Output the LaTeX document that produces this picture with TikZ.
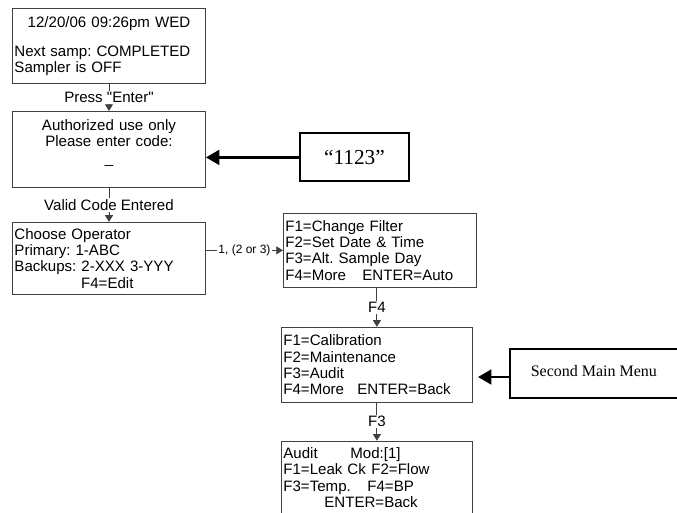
\documentclass[tikz,border=0pt]{standalone}
\usepackage{fontspec}
\newfontfamily\screenfont{Liberation Sans}
\newfontfamily\notefont{Liberation Serif}
\usetikzlibrary{positioning,arrows.meta}
\frenchspacing

\begin{document}
\begin{tikzpicture}[x=0.75pt, y=-0.75pt,
	every node/.style={font=\screenfont\fontsize{11.3}{12.2}\selectfont},
	screen/.style={rectangle, draw=black!75, line width=0.7pt, minimum width=144.75pt, text width=141.75pt, inner xsep=1.5pt, align=left},
	keylabel/.style={fill=white, inner sep=1pt},
	flow/.style={draw=black!75, line width=0.7pt, -{Triangle[length=5pt,width=6pt]}},
	note/.style={rectangle, draw=black, line width=1.5pt, font=\notefont\fontsize{12}{14}\selectfont},
	pointer/.style={line width=2pt, -{Triangle[length=10pt,width=11pt]}}]
	\useasboundingbox (0,0) rectangle (677,512);
	\node (status) [screen, minimum height=56.25pt, anchor=north west] at (12,8) {\hfill 12/20/06 09:26pm WED\hfill\null\\[9.75pt]Next samp: COMPLETED\\Sampler is OFF};
	\node (login) [screen, align=center, minimum height=57pt, below=20.25pt of status] {Authorized use only\\Please enter code:\\\_\\\mbox{}};
	\node (operator) [screen, minimum height=54pt, below=25.5pt of login] {Choose Operator\\Primary: 1-ABC\\Backups: 2-XXX 3-YYY\\\hspace*{50pt}F4=Edit};
	\node (mainmenu) [screen, minimum height=55.5pt, right=57.75pt of operator, yshift=6pt] {F1=Change Filter\\F2=Set Date \& Time\\F3=Alt. Sample Day\\\makebox[57.75pt][l]{F4=More}ENTER=Auto};
	\node (secondmenu) [screen, minimum width=143.25pt, text width=140.25pt, minimum height=56.25pt, below=29.25pt of mainmenu, xshift=-2.25pt] {F1=Calibration\\F2=Maintenance\\F3=Audit\\\makebox[55.5pt][l]{F4=More}ENTER=Back};
	\node (audit) [screen, minimum width=143.25pt, text width=140.25pt, minimum height=54.75pt, below=28.5pt of secondmenu] {\makebox[50.25pt][l]{Audit}Mod:[1]\\\makebox[66pt][l]{F1=Leak Ck}F2=Flow\\\makebox[63pt][l]{F3=Temp.}F4=BP\\\hspace*{30.75pt}ENTER=Back};
	\node (code) [note, font=\notefont\fontsize{16}{18}\selectfont, minimum width=81.75pt, minimum height=36pt, right=69.75pt of login, yshift=-6pt] {“1123”};
	\node (menulabel) [note, minimum width=126pt, minimum height=36.75pt, right=27pt of secondmenu, yshift=-6.75pt] {\raisebox{4pt}{Second Main Menu}};
	\coordinate (menutip) at (478,377);
	\draw [flow] (status) -- node [keylabel] {Press "Enter"} (login);
	\draw [flow] (login) -- node [keylabel] {Valid Code Entered} (operator);
	\draw [flow] (operator.east |- mainmenu) -- node [keylabel, font=\screenfont\fontsize{9}{10}\selectfont] {1, (2 or 3)} (mainmenu);
	\draw [flow] (secondmenu.north |- mainmenu.south) -- node [keylabel] {F4} (secondmenu);
	\draw [flow] (secondmenu) -- node [keylabel] {F3} (audit);
	\draw [pointer] (code.west) -- (code.west -| login.east);
	\draw [pointer] (menulabel.west |- menutip) -- (menutip);
\end{tikzpicture}
\end{document}
